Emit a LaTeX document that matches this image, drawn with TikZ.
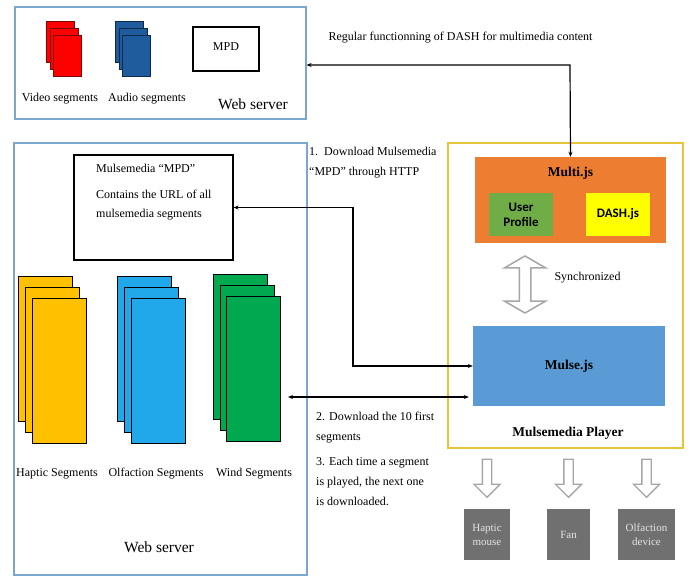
\documentclass[tikz,border=0pt]{standalone}
\usepackage{fontspec}
\setmainfont{Liberation Serif}
\newfontfamily\calib{Carlito}
\usepackage{tikz}
\usetikzlibrary{positioning,shapes.arrows,arrows.meta}

\definecolor{srvblue}{HTML}{7AA6D0}
\definecolor{plyellow}{HTML}{E8C43A}
\definecolor{multiorange}{HTML}{ED7D31}
\definecolor{upgreen}{HTML}{70AD47}
\definecolor{dashyellow}{HTML}{FFFF00}
\definecolor{mulseblue}{HTML}{5B9BD5}
\definecolor{vidred}{HTML}{FF0000}
\definecolor{viddark}{HTML}{7A0A0A}
\definecolor{audblue}{HTML}{1F5C9E}
\definecolor{auddark}{HTML}{0D2A4A}
\definecolor{hapyellow}{HTML}{FFC000}
\definecolor{olfblue}{HTML}{20A8EA}
\definecolor{windgreen}{HTML}{00A84F}
\definecolor{devgray}{HTML}{707070}
\definecolor{devtext}{HTML}{E4E4E4}
\definecolor{arrgray}{HTML}{A6A6A6}

\begin{document}
\begin{tikzpicture}[x=1pt, y=-1pt,
    every node/.style={font=\fontsize{12}{14}\selectfont},
    srv/.style={draw=srvblue, line width=1.2pt, inner sep=0pt},
    box/.style={draw=black, line width=1.1pt, inner sep=0pt},
    vseg/.style={draw=viddark, line width=0.9pt, fill=vidred, anchor=north west, minimum width=28pt, minimum height=41pt, inner sep=0pt},
    aseg/.style={vseg, draw=auddark, fill=audblue},
    mseg/.style={draw=black, line width=1pt, anchor=north west, minimum width=54pt, minimum height=145pt, inner sep=0pt},
    lbl/.style={font=\fontsize{12}{14}\selectfont},
    srvlbl/.style={font=\fontsize{15.5}{17}\selectfont},
    stepnote/.style={anchor=north west, align=left, inner sep=0pt, font=\fontsize{12}{20}\selectfont},
    jsbox/.style={inner sep=0pt, font=\fontsize{13.5}{15}\selectfont\bfseries},
    subbox/.style={inner sep=0pt, align=center, minimum width=64pt, minimum height=43pt, font=\calib\fontsize{13}{15}\selectfont\bfseries},
    dev/.style={fill=devgray, text=devtext, align=center, minimum height=51pt, inner sep=0pt, font=\fontsize{11}{14}\selectfont},
    conn/.style={line width=1.2pt, {Stealth[length=5pt,width=4pt]}-{Stealth[length=5pt,width=4pt]}},
    syncarrow/.style={double arrow, draw=arrgray, line width=1.5pt, fill=white, rotate=90, minimum height=57pt, inner xsep=0pt, inner ysep=5pt, double arrow head extend=15pt, double arrow tip angle=120},
    downarrow/.style={single arrow, draw=arrgray, line width=1.3pt, fill=white, rotate=-90, minimum height=38pt, inner xsep=0pt, inner ysep=4pt, single arrow head extend=8.5pt},
]
\useasboundingbox (0,0) rectangle (693,577);

% web server (DASH)
\node[srv, minimum width=291pt, minimum height=112pt] (webtop) at (160.5,63) {};
\foreach \i in {0,1,2} \node[vseg] (vid\i) at ({46+3.5*\i},{21+7*\i}) {};
\foreach \i in {0,1,2} \node[aseg] (aud\i) at ({115+3.5*\i},{21+7*\i}) {};
\node[box, minimum width=66pt, minimum height=44pt] (mpd) at (226,49) {};
\node at (226,47) {MPD};
\node[lbl] (vidlbl) at (60,99) {Video segments};
\node[lbl] (audlbl) at (147,99) {Audio segments};
\node[srvlbl] (toplbl) at (253,104) {Web server};

% web server (mulsemedia)
\node[srv, minimum width=293pt, minimum height=432pt] (webmain) at (160.5,359) {};
\node[box, minimum width=159pt, minimum height=105pt] (mmpd) at (153.5,207.5) {};
\node[stepnote, font=\fontsize{12}{19}\selectfont] (mmpdtxt) at (96,164) {Mulsemedia “MPD”\\[7pt]Contains the URL of all\\mulsemedia segments};
\foreach \i in {0,1,2} \node[mseg, fill=hapyellow] (hap\i) at ({18+7*\i},{276+11*\i}) {};
\foreach \i in {0,1,2} \node[mseg, fill=olfblue] (olf\i) at ({117+7*\i},{276+11*\i}) {};
\foreach \i in {0,1,2} \node[mseg, fill=windgreen] (wind\i) at ({213+6.5*\i},{274+11*\i}) {};
\node[lbl] (haplbl) at (57,474) {Haptic Segments};
\node[lbl] (olflbl) at (156,474) {Olfaction Segments};
\node[lbl] (windlbl) at (254,474) {Wind Segments};
\node[srvlbl] (mainlbl) at (159,547) {Web server};

% player
\node[draw=plyellow, line width=1.5pt, minimum width=235pt, minimum height=305pt, inner sep=0pt] (player) at (565.5,295.5) {};
\node[jsbox, fill=multiorange, minimum width=191pt, minimum height=86pt] (multi) at (570.5,200) {};
\node[jsbox] at (570.5,173) {Multi.js};
\node[subbox, fill=upgreen] (profile) at (521,214.5) {User\\Profile};
\node[subbox, fill=dashyellow] (dash) at (618,214.5) {DASH.js};
\node[syncarrow] (sync) at (525,284.5) {};
\node[lbl, anchor=west] (synclbl) at (551,278) {Synchronized};
\node[jsbox, fill=mulseblue, minimum width=192pt, minimum height=80pt] (mulse) at (569,366) {Mulse.js};
\node[jsbox] (playlbl) at (568,433) {Mulsemedia Player};

% devices
\foreach \x/\w/\n/\t in {487/46/hap/{Haptic\\mouse}, 568.5/43/fan/Fan, 646.5/57/olf/{Olfaction\\device}} {
  \node[downarrow] (\n arr) at (\x,476) {};
  \node[dev, minimum width=\w pt] (\n dev) at (\x,534.5) {\t};
}

% connectors
\coordinate (dashbend) at (570,65);
\draw[conn] (webtop.east |- dashbend) -- (dashbend) -- (multi.north);
\coordinate (mpdbend) at (353,366);
\draw[conn] (mmpd.east) -| (mpdbend) -- (mulse.west);
\coordinate (segend) at (288,397);
\draw[conn] (segend) -- ([xshift=-4pt]mulse.west |- segend);

% notes
\node[anchor=west] (regnote) at (325,38) {Regular functionning of DASH for multimedia content};
\node[stepnote] (note1) at (309,147) {1.~~Download Mulsemedia\\“MPD” through HTTP};
\node[stepnote] (note2) at (316,412) {2. Download the 10 first\\segments\\[5pt]3. Each time a segment\\is played, the next one\\is downloaded.};

\end{tikzpicture}
\end{document}
